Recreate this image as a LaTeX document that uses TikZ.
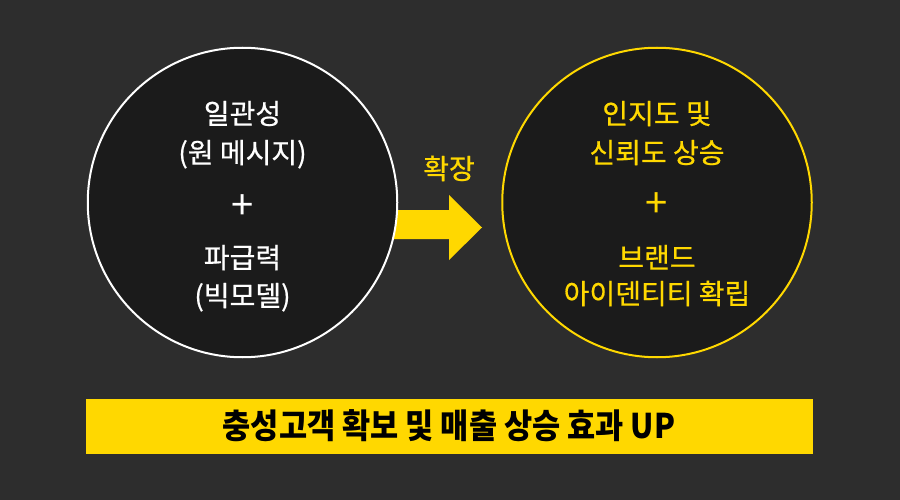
\documentclass[tikz,border=0pt]{standalone}
\usepackage{fontspec}
\setmainfont{Noto Sans CJK KR}
\newfontfamily\krfont{Noto Sans CJK KR}[FakeBold=0.6]
\newfontfamily\krplain{Noto Sans CJK KR}
\definecolor{bgcol}{HTML}{2D2D2D}
\definecolor{darkcol}{HTML}{1B1B1B}
\definecolor{yelcol}{HTML}{FFD800}
\tikzset{
  bigcircle/.style={circle, fill=darkcol, line width=2pt, minimum size=309.5pt, inner sep=0pt},
  txt/.style={anchor=base, inner sep=0pt, font=\krfont\fontsize{28}{32}\selectfont},
  wtxt/.style={txt, text=white},
  ytxt/.style={txt, text=yelcol},
  plussign/.style={anchor=base, inner sep=0pt, font=\krplain\fontsize{40}{44}\selectfont},
  bannerbox/.style={fill=yelcol, draw=none, inner sep=0pt},
}
\begin{document}
\begin{tikzpicture}[x=1pt,y=-1pt]
\useasboundingbox (0,0) rectangle (900,500);
\fill[bgcol] (0,0) rectangle (900,500);
% arrow
\fill[yelcol] (390,210) -- (449,210) -- (449,195) -- (482,227.5) -- (449,260) -- (449,239) -- (390,239) -- cycle;
% circles
\node[bigcircle, draw=white] (L) at (242.5,202.5) {};
\node[bigcircle, draw=yelcol] (R) at (657,202.5) {};
% left text
\node[wtxt] (l1) at (242.5,124) {일관성};
\node[wtxt] (l2) at (242.5,163) {(원 메시지)};
\node[plussign, text=white] (lp) at (242.5,219) {+};
\node[wtxt] (l3) at (242.5,268) {파급력};
\node[wtxt] (l4) at (242.5,306) {(빅모델)};
% right text
\node[ytxt] (r1) at (657,124) {인지도 및};
\node[ytxt] (r2) at (657,163) {신뢰도 상승};
\node[plussign, text=yelcol] (rp) at (657,217) {+};
\node[ytxt] (r3) at (657,268) {브랜드};
\node[ytxt] (r4) at (657,304) {아이덴티티 확립};
% arrow label
\node[ytxt] (al) at (449,179) {확장};
% banner
\path[bannerbox] (86,399) rectangle (813,454);
\node[anchor=base, inner sep=0pt, font=\krplain\bfseries\fontsize{34}{38}\selectfont] (ban) at (449,438) {\scalebox{0.9}[1]{충성고객 확보 및 매출 상승 효과 UP}};
\end{tikzpicture}
\end{document}
